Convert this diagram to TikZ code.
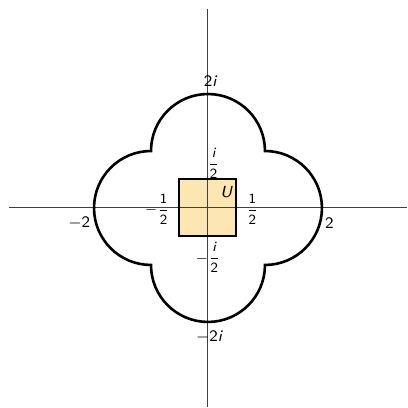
\documentclass[tikz,border=0pt]{standalone}
\usepackage{amsmath}
\usepackage{fontspec}
\usetikzlibrary{math}
\definecolor{ufill}{RGB}{252,231,178}
\newcommand{\sfi}{\text{\sffamily\itshape i}}
\newcommand{\sfn}[1]{\text{\sffamily #1}}
\tikzset{
  axis/.style={line width=0.5pt, black!75},
  clover/.style={line width=1.3pt, black},
  ulabel/.style={font=\footnotesize\sffamily, inner sep=0pt},
  flabel/.style={font=\scriptsize\sffamily, inner sep=0pt}
}
\begin{document}
\begin{tikzpicture}[scale=1]
\tikzmath{
\h=0.5;
\r=1;
\L=3.5;
}
\useasboundingbox (-3.65,-3.51) rectangle (3.51,3.65);
\coordinate (O) at (0,0);

% the square U
\fill[ufill] (-\h,-\h) rectangle (\h,\h);

% axes
\draw[axis] (-\L,0) -- (\L,0);
\draw[axis] (0,-\L) -- (0,\L);

\draw[line width=1pt] (-\h,-\h) rectangle (\h,\h);

% union of four discs
\draw[clover] (\r,\r) arc(0:180:\r) arc(90:270:\r) arc(180:360:\r) arc(-90:90:\r) -- cycle;

% labels
\node[ulabel] (top) at (0.04,2.22) {$\sfn{2}\sfi$};
\node[ulabel] (bot) at (0.02,-2.26) {$-\sfn{2}\sfi$};
\node[ulabel] (lft) at (-2.26,-0.26) {$-\sfn{2}$};
\node[ulabel] (rgt) at (2.13,-0.26) {$\sfn{2}$};
\node[flabel] (ihalf) at (0.1,0.78) {$\dfrac{\sfi}{\sfn{2}}$};
\node[flabel] (mihalf) at (0,-0.87) {$-\dfrac{\sfi}{\sfn{2}}$};
\node[flabel] (half) at (0.78,-0.02) {$\dfrac{\sfn{1}}{\sfn{2}}$};
\node[flabel] (mhalf) at (-0.89,-0.02) {$-\dfrac{\sfn{1}}{\sfn{2}}$};
\node[ulabel] (U) at (0.32,0.28) {\itshape U};
\end{tikzpicture}
\end{document}
